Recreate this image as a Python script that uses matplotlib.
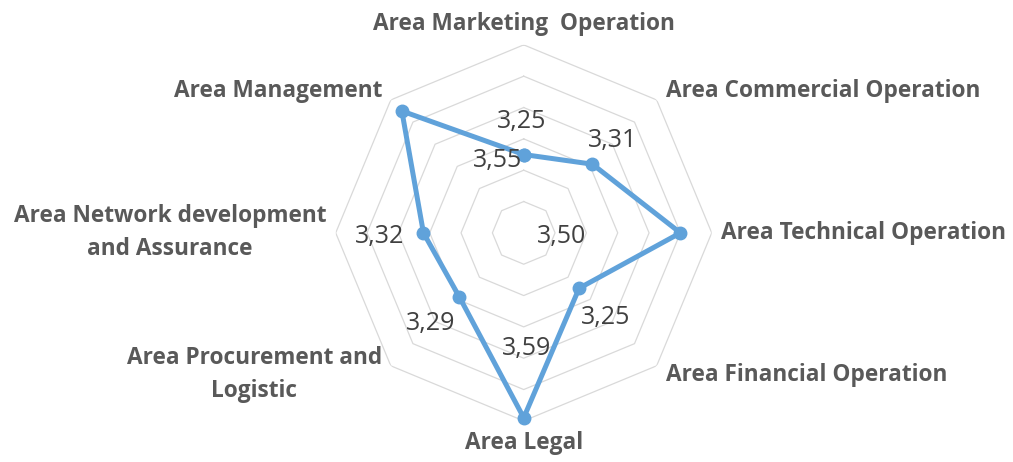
import numpy as np
import matplotlib
matplotlib.use("Agg")
import matplotlib.pyplot as plt

# categories clockwise from the top
areas = [
    "Area Marketing  Operation",
    "Area Commercial Operation",
    "Area Technical Operation",
    "Area Financial Operation",
    "Area Legal",
    "Area Procurement and\nLogistic",
    "Area Network development\nand Assurance",
    "Area Management",
]
scores = [3.25, 3.31, 3.50, 3.25, 3.59, 3.29, 3.32, 3.55]
score_text = ["3,25", "3,31", "3,50", "3,25", "3,59", "3,29", "3,32", "3,55"]
ring_values = [3.1, 3.2, 3.3, 3.4, 3.5, 3.6]

# where Excel dropped the data labels, relative to each point (pixels, y up)
label_offsets = [(-2, 33), (20, 24), (-119, -4), (27, -29),
                 (3, 69), (-29, -26), (-44, -4), (96, -49)]

blue = "#60A2DA"
grid_col = "#D9D9D9"
txt_col = "#595959"

n = len(areas)
angles = np.arange(n) * 2 * np.pi / n
closed = np.append(angles, angles[0])

fig = plt.figure(figsize=(10.13, 4.62), dpi=100)
ax = fig.add_axes([0.517 - 0.1856, 0.496 - 0.407, 0.3712, 0.8139], projection="polar")
ax.set_theta_zero_location("N")
ax.set_theta_direction(-1)
ax.set_ylim(3.0, 3.6)
ax.grid(False)
ax.spines["polar"].set_visible(False)
ax.set_xticks([])
ax.set_yticks([])
ax.patch.set_alpha(0)

# octagonal rings
for rv in ring_values:
    ax.plot(closed, [rv] * (n + 1), color=grid_col, lw=0.9, zorder=1)

ax.plot(closed, scores + scores[:1], color=blue, lw=3.6, marker="o",
        markersize=9, zorder=3, clip_on=False)

for a, s, t, off in zip(angles, scores, score_text, label_offsets):
    ax.annotate(t, xy=(a, s), xytext=off, textcoords="offset pixels",
                ha="center", va="center", fontsize=18, color="#404040",
                family="Open Sans", zorder=4)

# category labels around the chart
cat_r = [3.665, 3.64, 3.63, 3.64, 3.672, 3.64, 3.63, 3.64]
cat_ha = ["center", "left", "left", "left", "center", "right", "right", "right"]
for a, name, r, ha in zip(angles, areas, cat_r, cat_ha):
    ax.text(a, r, name, ha=ha, va="center", multialignment="center",
            fontsize=16.3, fontweight="bold", color=txt_col, family="Open Sans",
            linespacing=1.5)

fig.savefig("out.png", dpi=100)
